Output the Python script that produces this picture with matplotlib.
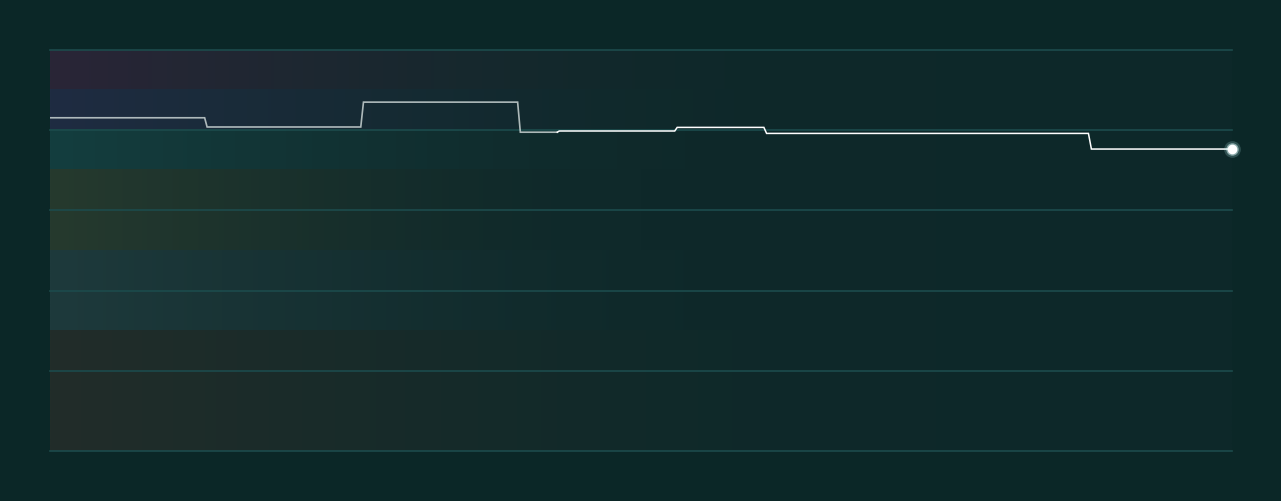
import matplotlib
matplotlib.use("Agg")
import matplotlib.pyplot as plt
import numpy as np
from matplotlib.colors import to_rgb

# sampled readings (minutes since start, score)
minutes = [0, 62.8, 63.8, 126.2, 127.3, 189.9, 191.0, 206.0, 206.8,
           253.7, 254.7, 289.9, 291.0, 421.7, 422.9, 480]
scores = [83.1, 83.1, 80.8, 80.8, 87.0, 87.0, 79.5, 79.5, 79.8,
          79.8, 80.7, 80.7, 79.2, 79.2, 75.3, 75.3]
faded_until = 8  # first points are drawn dimmer

# background zones: (low, high, left colour, fade fraction)
zone_low = [90, 80, 70, 50, 30, 0]
zone_high = [100, 90, 80, 70, 50, 30]
zone_colors = ["#2a2537", "#1f2c42", "#143e3f", "#263a2e", "#1e3a3c", "#222d29"]
zone_fade = [0.6, 0.6, 0.55, 0.47, 0.55, 0.65]

grid_levels = [0, 20, 40, 60, 80, 100]

BG = "#0b2727"
PLOT_BG = "#0d2829"

fig = plt.figure(figsize=(12.81, 5.01), dpi=100, facecolor=BG)
ax = fig.add_axes([50 / 1281, 50 / 501, 1182 / 1281, 401 / 501])
ax.set_facecolor(PLOT_BG)
xmax = 480
ax.set_xlim(0, xmax)
ax.set_ylim(0, 100)

n = 600
t = np.linspace(0, 1, n)
base = np.array(to_rgb(PLOT_BG))

# faint overall left-to-right shading
left_base = np.array(to_rgb("#112a2b"))
lb = left_base[None, :] * (1 - t[:, None]) + base[None, :] * t[:, None]
ax.imshow(lb[None, :, :], extent=(0, xmax, 0, 100), aspect="auto",
          interpolation="bilinear", zorder=0)

for lo, hi, col, fade in zip(zone_low, zone_high, zone_colors, zone_fade):
    c = np.array(to_rgb(col))
    w = np.clip(1 - t / fade, 0, 1) ** 1.5
    img = c[None, :] * w[:, None] + lb * (1 - w[:, None])
    ax.imshow(img[None, :, :], extent=(0, xmax, lo, hi), aspect="auto",
              interpolation="bilinear", zorder=1)

for g in grid_levels:
    ax.axhline(g, color="#1c4b4c", lw=1.2, zorder=2, clip_on=False)

ax.plot(minutes[:faded_until], scores[:faded_until], color="#c9d3d3",
        lw=1.2, alpha=0.85, zorder=3, solid_joinstyle="miter")
ax.plot(minutes[faded_until - 1:], scores[faded_until - 1:], color="white",
        lw=1.1, zorder=3, solid_joinstyle="miter")

# glowing end point
ax.plot(minutes[-1], scores[-1], "o", ms=12, color="#bff8f8", alpha=0.2,
        mec="none", zorder=4, clip_on=False)
ax.plot(minutes[-1], scores[-1], "o", ms=9, color="#dffcfc", alpha=0.5,
        mec="none", zorder=4, clip_on=False)
ax.plot(minutes[-1], scores[-1], "o", ms=7, color="white",
        mec="none", zorder=5, clip_on=False)

ax.set_xticks([])
ax.set_yticks([])
for s in ax.spines.values():
    s.set_visible(False)

fig.savefig("out.png", dpi=100, facecolor=BG)
